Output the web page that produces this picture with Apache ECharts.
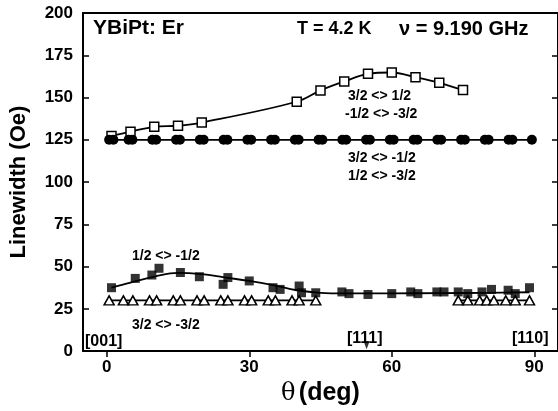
<!DOCTYPE html>
<html>
<head>
<meta charset="utf-8">
<script src="https://cdn.jsdelivr.net/npm/echarts@6/dist/echarts.min.js"></script>
<style>
  html, body { margin: 0; padding: 0; background: #fff; }
  #chart { width: 558px; height: 411px; }
</style>
</head>
<body>
<div id="chart"></div>
<script>
// open squares: 3/2<>1/2, -1/2<>-3/2
var thetaOpen = [1, 5, 10, 15, 20, 40, 45, 50, 55, 60, 65, 70, 75];
var lwOpen = [127.3, 129.8, 132.7, 133.3, 135.2, 147.5, 154.2, 159.5, 164, 164.8, 162, 158.7, 154.4];

// filled circles: 3/2<>-1/2, 1/2<>-3/2
var thetaCirc = [0.5, 1.4, 4.6, 5.4, 9.6, 10.4, 14.6, 15.4, 19.6, 20.4, 24.6, 25.4, 29.6, 30.4,
  34.6, 35.4, 39.6, 40.4, 44.6, 45.4, 49.6, 50.4, 54.6, 55.4, 59.6, 60.4, 64.6, 65.4,
  69.6, 70.4, 74.6, 75.4, 79.6, 80.4, 84.6, 85.4, 89.5];
var lwCirc = [125, 125, 125, 125, 125, 125, 125, 125, 125, 125, 125, 125, 125, 125,
  125, 125, 125, 125, 125, 125, 125, 125, 125, 125, 125, 125, 125, 125,
  125, 125, 125, 125, 125, 125, 125, 125, 125];

// filled squares: 1/2<>-1/2
var thetaFill = [1, 6, 9.5, 11, 15.5, 19.5, 24.5, 25.5, 30, 35, 36.5, 40.5, 41, 44, 49.5, 51,
  55, 60, 64, 65.5, 69.5, 71, 74, 76, 79, 81, 84.5, 86, 89];
var lwFill = [37.5, 43, 45, 49, 46.5, 44, 39.5, 43.5, 41.5, 37.5, 36.5, 38.5, 34.5, 34.5, 35, 34,
  33.5, 34, 35, 34, 35, 35, 35, 34, 35, 36.5, 36, 34, 37.5];
// fit through filled squares
var thetaFit = [1, 5, 10, 15, 20, 25, 30, 35, 40, 45, 50, 60, 70, 80, 89];
var lwFit = [37.5, 40.5, 44, 46.3, 45.5, 43.5, 41.5, 39, 36, 34.5, 34.2, 34.2, 34.3, 34.5, 34.8];

// open triangles: 3/2<>-3/2
var thetaTriA = [0.5, 3.5, 5.5, 9, 10.5, 14, 15.5, 19, 20.5, 24, 25.5, 29, 30.5, 34, 35.5, 39, 40.5, 44];
var lwTriA = [30, 30, 30, 30, 30, 30, 30, 30, 30, 30, 30, 30, 30, 30, 30, 30, 30, 30];
var thetaTriB = [74, 76, 78.5, 80, 81.5, 84, 86, 89];
var lwTriB = [30, 30, 30, 30, 30, 30, 30, 30];

// [111] direction marker
var theta111 = [54.7];
var lw111 = [3.5];

var xTicks = [0, 30, 60, 90];

function pairs(xs, ys) {
  return xs.map(function (x, i) { return [x, ys[i]]; });
}

var chart = echarts.init(document.getElementById('chart'));
var font = '"Liberation Sans", Arial, sans-serif';
var black = '#000';

function label(text, left, top, size) {
  return { type: 'text', left: left, top: top,
    style: { text: text, fontFamily: font, fontWeight: 'bold', fontSize: size, fill: black } };
}

var option = {
  animation: false,
  backgroundColor: '#fff',
  grid: { left: 82, top: 13, width: 477, height: 345 },
  xAxis: [{
    type: 'value', min: -5, max: 95,
    name: '{t|θ} {d|(deg)}', nameLocation: 'middle', nameGap: 28,
    nameTextStyle: {
      rich: {
        t: { fontFamily: '"DejaVu Serif", serif', fontSize: 24, color: black },
        d: { fontFamily: font, fontWeight: 'bold', fontSize: 25, color: black }
      }
    },
    axisLine: { onZero: false, lineStyle: { color: black, width: 2 } },
    axisTick: { customValues: xTicks, inside: false, length: 6, lineStyle: { color: black, width: 1.5 } },
    axisLabel: { customValues: xTicks, margin: 8, fontFamily: font, fontWeight: 'bold', fontSize: 17, color: black },
    splitLine: { show: false }
  }, {
    type: 'value', min: -5, max: 95, position: 'top',
    axisLine: { onZero: false, lineStyle: { color: black, width: 2 } },
    axisTick: { show: false }, axisLabel: { show: false }, splitLine: { show: false }
  }],
  yAxis: [{
    type: 'value', min: 0, max: 200, interval: 25,
    name: 'Linewidth (Oe)', nameLocation: 'middle', nameGap: 53, nameRotate: 90,
    nameTextStyle: { fontFamily: font, fontWeight: 'bold', fontSize: 22, color: black },
    axisLine: { show: true, onZero: false, lineStyle: { color: black, width: 2 } },
    axisTick: { show: true, inside: true, length: 6, lineStyle: { color: black, width: 1.5 } },
    axisLabel: { margin: 10, fontFamily: font, fontWeight: 'bold', fontSize: 17, color: black },
    splitLine: { show: false }
  }, {
    type: 'value', min: 0, max: 200, interval: 25, position: 'right',
    axisLine: { show: true, onZero: false, lineStyle: { color: black, width: 2 } },
    axisTick: { show: true, inside: true, length: 6, lineStyle: { color: black, width: 1.5 } },
    axisLabel: { show: false }, splitLine: { show: false }
  }],
  series: [{
    name: 'fit low', type: 'line', smooth: 0.4, symbol: 'none',
    data: pairs(thetaFit, lwFit),
    lineStyle: { color: black, width: 1.8 }, z: 2
  }, {
    name: '3/2<>1/2', type: 'line', smooth: 0.35,
    data: pairs(thetaOpen, lwOpen),
    symbol: 'rect', symbolSize: 9, showAllSymbol: true,
    itemStyle: { color: '#fff', borderColor: black, borderWidth: 1.5 },
    lineStyle: { color: black, width: 1.8 }, z: 3
  }, {
    name: '3/2<>-1/2', type: 'line',
    data: pairs(thetaCirc, lwCirc),
    symbol: 'circle', symbolSize: 10, showAllSymbol: true,
    itemStyle: { color: black, borderColor: black, borderWidth: 0 },
    lineStyle: { color: black, width: 1.8 }, z: 3
  }, {
    name: '3/2<>-3/2 a', type: 'line',
    data: pairs(thetaTriA, lwTriA),
    symbol: 'triangle', symbolSize: [10, 9], showAllSymbol: true,
    itemStyle: { color: '#fff', borderColor: black, borderWidth: 1.5 },
    lineStyle: { color: black, width: 1.8 }, z: 3
  }, {
    name: '3/2<>-3/2 b', type: 'line',
    data: pairs(thetaTriB, lwTriB),
    symbol: 'triangle', symbolSize: [10, 9], showAllSymbol: true,
    itemStyle: { color: '#fff', borderColor: black, borderWidth: 1.5 },
    lineStyle: { color: black, width: 1.8 }, z: 3
  }, {
    name: '1/2<>-1/2', type: 'scatter',
    data: pairs(thetaFill, lwFill),
    symbol: 'rect', symbolSize: 9,
    itemStyle: { color: black }, z: 4
  }, {
    name: '[111]', type: 'scatter',
    data: pairs(theta111, lw111),
    symbol: 'triangle', symbolSize: [6, 8], symbolRotate: 180,
    itemStyle: { color: black }, z: 4
  }],
  graphic: [
    label('YBiPt: Er', 93, 18, 21),
    label('T = 4.2 K', 297, 20, 18),
    label('ν = 9.190 GHz', 399, 19, 20),
    label('3/2 <> 1/2', 348, 89, 14),
    label('-1/2 <> -3/2', 345, 107, 14),
    label('3/2 <> -1/2', 348, 151, 14),
    label('1/2 <> -3/2', 348, 169, 14),
    label('1/2 <> -1/2', 132, 249, 14),
    label('3/2 <> -3/2', 132, 318, 14),
    label('[001]', 85, 334, 16),
    label('[111]', 347, 331, 16),
    label('[110]', 512, 331, 16)
  ]
};

chart.setOption(option);
</script>
</body>
</html>
